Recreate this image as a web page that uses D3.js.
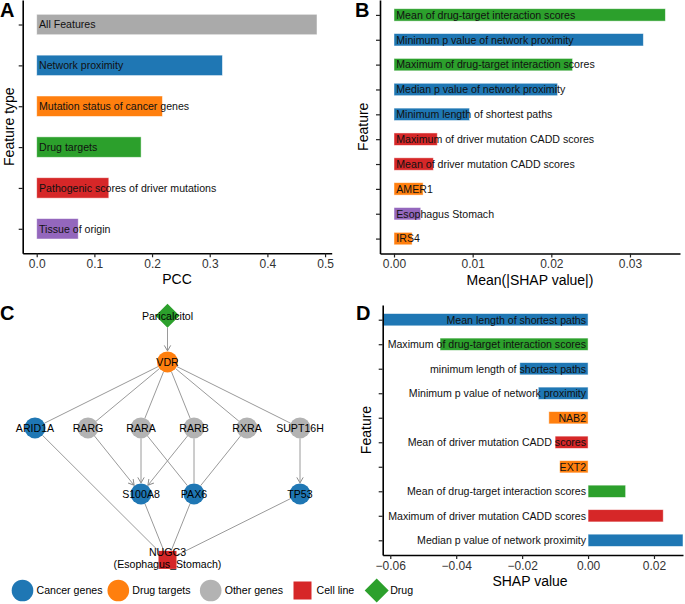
<!DOCTYPE html>
<html><head><meta charset="utf-8">
<script src="https://cdn.jsdelivr.net/npm/d3@7"></script>
<style>
body{margin:0;background:#fff}
svg text{font-family:"Liberation Sans",Arial,Helvetica,sans-serif}
</style>
</head><body>
<svg id="fig" width="685" height="604"></svg>
<script>
// ---------- DATA ----------
// Panel A
const aCategories = ["All Features","Network proximity","Mutation status of cancer genes","Drug targets","Pathogenic scores of driver mutations","Tissue of origin"];
const aValues = [0.486,0.322,0.218,0.181,0.125,0.072];
const aGroups = ["all","network","mutation","drug","pathogenic","tissue"];
const aTicks = [0,0.1,0.2,0.3,0.4,0.5];

// Panel B
const bFeatures = ["Mean of drug-target interaction scores","Minimum p value of network proximity","Maximum of drug-target interaction scores","Median p value of network proximity","Minimum length of shortest paths","Maximum of driver mutation CADD scores","Mean of driver mutation CADD scores","AMER1","Esophagus Stomach","IRS4"];
const bValues = [0.0345,0.0317,0.0227,0.0208,0.0096,0.0055,0.0050,0.0037,0.0034,0.0023];
const bGroups = ["drug","network","drug","network","network","pathogenic","pathogenic","mutation","tissue","mutation"];
const bTicks = [0,0.01,0.02,0.03];

// Panel D
const dFeatures = ["Mean length of shortest paths","Maximum of drug-target interaction scores","minimum length of shortest paths","Minimum p value of network proximity","NAB2","Mean of driver mutation CADD scores","EXT2","Mean of drug-target interaction scores","Maximum of driver mutation CADD scores","Median p value of network proximity"];
const dValues = [-0.0623,-0.0449,-0.0207,-0.0151,-0.0119,-0.0100,-0.0086,0.0114,0.0228,0.0288];
const dGroups = ["network","drug","network","network","mutation","pathogenic","mutation","drug","pathogenic","network"];
const dTicks = [-0.06,-0.04,-0.02,0,0.02];

// Panel C network
const netNodes = ["Paricalcitol","VDR","ARID1A","RARG","RARA","RARB","RXRA","SUPT16H","S100A8","PAX6","TP53","NUGC3"];
const netTypes = ["drug","target","cancer","other","other","other","other","other","cancer","cancer","cancer","cell"];
const netLabels = {NUGC3:["NUGC3","(Esophagus_Stomach)"]};
const netEdges = [
  ["Paricalcitol","VDR",true],
  ["VDR","ARID1A",false],["VDR","RARG",false],["VDR","RARA",false],["VDR","RARB",false],["VDR","RXRA",false],["VDR","SUPT16H",false],
  ["RARG","S100A8",true],["RARA","S100A8",true],["RARB","S100A8",true],
  ["RARA","PAX6",false],["RARB","PAX6",false],["RXRA","PAX6",false],
  ["SUPT16H","TP53",true],
  ["ARID1A","NUGC3",false],["S100A8","NUGC3",false],["PAX6","NUGC3",false],["TP53","NUGC3",false]
];
const legendTypes = ["cancer","target","other","cell","drug"];
const legendLabels = ["Cancer genes","Drug targets","Other genes","Cell line","Drug"];

// ---------- STYLE / LAYOUT ----------
const groupColor = {all:"#aaaaaa",network:"#1f77b4",mutation:"#ff7f0e",drug:"#2ca02c",pathogenic:"#d62728",tissue:"#9467bd"};
const nodeColor = {cancer:"#1f77b4",target:"#ff7f0e",other:"#b3b3b3",cell:"#d62728",drug:"#2ca02c"};
// grid layout (column, level) for the network drawing
const netGrid = {Paricalcitol:[2.5,0],VDR:[2.5,0.7],ARID1A:[0,1.7],RARG:[1,1.7],RARA:[2,1.7],RARB:[3,1.7],RXRA:[4,1.7],SUPT16H:[5,1.7],S100A8:[2,2.7],PAX6:[3,2.7],TP53:[5,2.7],NUGC3:[2.5,3.7]};

const svg = d3.select("#fig");
const FS_LAB = 10.6, FS_TICK = 12, FS_TITLE = 14;

function barPanel(o){
  const g = svg.append("g");
  const x = d3.scaleLinear().domain(o.domain).range([o.left,o.right]);
  const y = d3.scalePoint().domain(o.categories).range([o.top,o.bottom]).padding(0.6);
  const bh = y.step()*0.5;
  const idx = o.categories.map((d,i)=>i);
  g.selectAll("rect.bar").data(idx).join("rect").attr("class","bar")
    .attr("x",i=>Math.min(x(0),x(o.values[i])))
    .attr("y",i=>y(o.categories[i])-bh/2)
    .attr("width",i=>Math.abs(x(o.values[i])-x(0)))
    .attr("height",bh)
    .attr("fill",i=>groupColor[o.groups[i]])
    .attr("stroke","#ffffff").attr("stroke-opacity",0.6).attr("stroke-width",0.8);
  g.selectAll("text.lab").data(idx).join("text").attr("class","lab")
    .attr("x",o.labelEnd ? x(0)-2 : x(0)+2.3)
    .attr("y",i=>y(o.categories[i]))
    .attr("dy","0.36em")
    .attr("text-anchor",o.labelEnd?"end":"start")
    .attr("font-size",FS_LAB).attr("fill","#111")
    .text(i=>o.categories[i]);
  const xa = g.append("g").attr("transform",`translate(0,${o.bottom})`)
    .call(d3.axisBottom(x).tickValues(o.ticks).tickFormat(d3.format(o.fmt)).tickSize(4).tickSizeOuter(0).tickPadding(2));
  const ya = g.append("g").attr("transform",`translate(${o.left},0)`)
    .call(d3.axisLeft(y).tickFormat("").tickSize(4).tickSizeOuter(0));
  [xa,ya].forEach(a=>{
    a.select(".domain").attr("stroke","#000").attr("stroke-width",1.6);
    a.selectAll(".tick line").attr("stroke","#222").attr("stroke-width",1.2);
    a.selectAll(".tick text").attr("font-size",FS_TICK).attr("fill","#333").attr("font-family","Liberation Sans, Arial, sans-serif");
  });
  // titles
  g.append("text").attr("x",o.titleX).attr("y",o.bottom+31).attr("text-anchor","middle")
    .attr("font-size",FS_TITLE).attr("fill","#000").text(o.xTitle);
  g.append("text").attr("transform",`translate(${o.yTitleX},${(o.top+o.bottom)/2}) rotate(-90)`)
    .attr("text-anchor","middle").attr("dy","0.35em").attr("font-size",FS_TITLE).attr("fill","#000").text(o.yTitle);
}

barPanel({categories:aCategories,values:aValues,groups:aGroups,ticks:aTicks,fmt:".1f",
  domain:[-0.0243,0.5115],left:22.7,right:331.7,top:0,bottom:253.3,
  xTitle:"PCC",titleX:177,yTitle:"Feature type",yTitleX:9});
barPanel({categories:bFeatures,values:bValues,groups:bGroups,ticks:bTicks,fmt:".2f",
  domain:[-0.00178,0.03636],left:380,right:680,top:0,bottom:253.5,
  xTitle:"Mean(|SHAP value|)",titleX:530,yTitle:"Feature",yTitleX:363});
barPanel({categories:dFeatures,values:dValues,groups:dGroups,ticks:dTicks,fmt:".2f",labelEnd:true,
  domain:[-0.0623,0.0288],left:382.7,right:683,top:305,bottom:555,
  xTitle:"SHAP value",titleX:530,yTitle:"Feature",yTitleX:366});

// ---------- Panel C network ----------
const nx = d3.scaleLinear().domain([0,5]).range([35,300]);
const ny = d3.scaleLinear().domain([0,3.7]).range([315.7,559.9]);
const R = 10.5, SQ = 9, DI = 12;
const typeOf = {}; netNodes.forEach((n,i)=>typeOf[n]=netTypes[i]);
const pos = n=>[nx(netGrid[n][0]),ny(netGrid[n][1])];
function trim(type,ux,uy){
  if(type==="cell") return Math.min(SQ/Math.max(Math.abs(ux),1e-6),SQ/Math.max(Math.abs(uy),1e-6));
  if(type==="drug") return DI/(Math.abs(ux)+Math.abs(uy));
  return R;
}
const defs = svg.append("defs");
defs.append("marker").attr("id","arr").attr("viewBox","-7 -5 8 10").attr("refX",0).attr("refY",0)
  .attr("markerWidth",8).attr("markerHeight",10).attr("markerUnits","userSpaceOnUse").attr("orient","auto")
  .append("path").attr("d","M-5.5,-3.2L0,0L-5.5,3.2").attr("fill","none").attr("stroke","#8c8c8c").attr("stroke-width",1);

const gc = svg.append("g");
gc.selectAll("line.edge").data(netEdges).join("line").attr("class","edge")
  .each(function(e){
    const [x1,y1]=pos(e[0]),[x2,y2]=pos(e[1]);
    const L=Math.hypot(x2-x1,y2-y1),ux=(x2-x1)/L,uy=(y2-y1)/L;
    const s=trim(typeOf[e[0]],ux,uy), t=trim(typeOf[e[1]],ux,uy)+(e[2]?0.5:0);
    d3.select(this).attr("x1",x1+ux*s).attr("y1",y1+uy*s).attr("x2",x2-ux*t).attr("y2",y2-uy*t);
  })
  .attr("stroke","#9a9a9a").attr("stroke-width",1)
  .attr("marker-end",e=>e[2]?"url(#arr)":null);

function drawShape(sel,type,cx,cy,scale){
  const k=scale||1;
  if(type==="cell") sel.append("rect").attr("x",cx-SQ*k).attr("y",cy-SQ*k).attr("width",2*SQ*k).attr("height",2*SQ*k).attr("fill",nodeColor[type]);
  else if(type==="drug") sel.append("path").attr("d",`M${cx},${cy-DI*k}L${cx+DI*k},${cy}L${cx},${cy+DI*k}L${cx-DI*k},${cy}Z`).attr("fill",nodeColor[type]);
  else sel.append("circle").attr("cx",cx).attr("cy",cy).attr("r",R*k).attr("fill",nodeColor[type]);
}
netNodes.forEach((n,i)=>{const [cx,cy]=pos(n); drawShape(gc,netTypes[i],cx,cy,1);});
netNodes.forEach(n=>{
  const [cx,cy]=pos(n);
  const lines = netLabels[n]||[n];
  const t = gc.append("text").attr("text-anchor","middle").attr("font-size",FS_LAB).attr("fill","#000");
  if(lines.length===1) t.attr("x",cx).attr("y",cy).attr("dy","0.36em").text(lines[0]);
  else lines.forEach((l,j)=>t.append("tspan").attr("x",cx).attr("y",cy-7.7+j*12).attr("dy","0.36em").text(l));
});

// legend
const legX = [22.5,118.3,210.7,302.5,376.7];
const legY = 590.5;
legendTypes.forEach((tp,i)=>{
  drawShape(svg,tp,legX[i],legY, tp==="cell"?1:(tp==="drug"?1:1.03));
  svg.append("text").attr("x",legX[i]+(tp==="drug"?13.5:14)).attr("y",legY).attr("dy","0.36em")
    .attr("font-size",FS_LAB).attr("fill","#000").text(legendLabels[i]);
});

// panel letters
[["A",0,16.8],["B",355,16.8],["C",0,320],["D",356,320]].forEach(([l,x,y])=>{
  svg.append("text").attr("x",x).attr("y",y).attr("font-size",20).attr("font-weight","bold").attr("fill","#000").text(l);
});
</script>
</body></html>
